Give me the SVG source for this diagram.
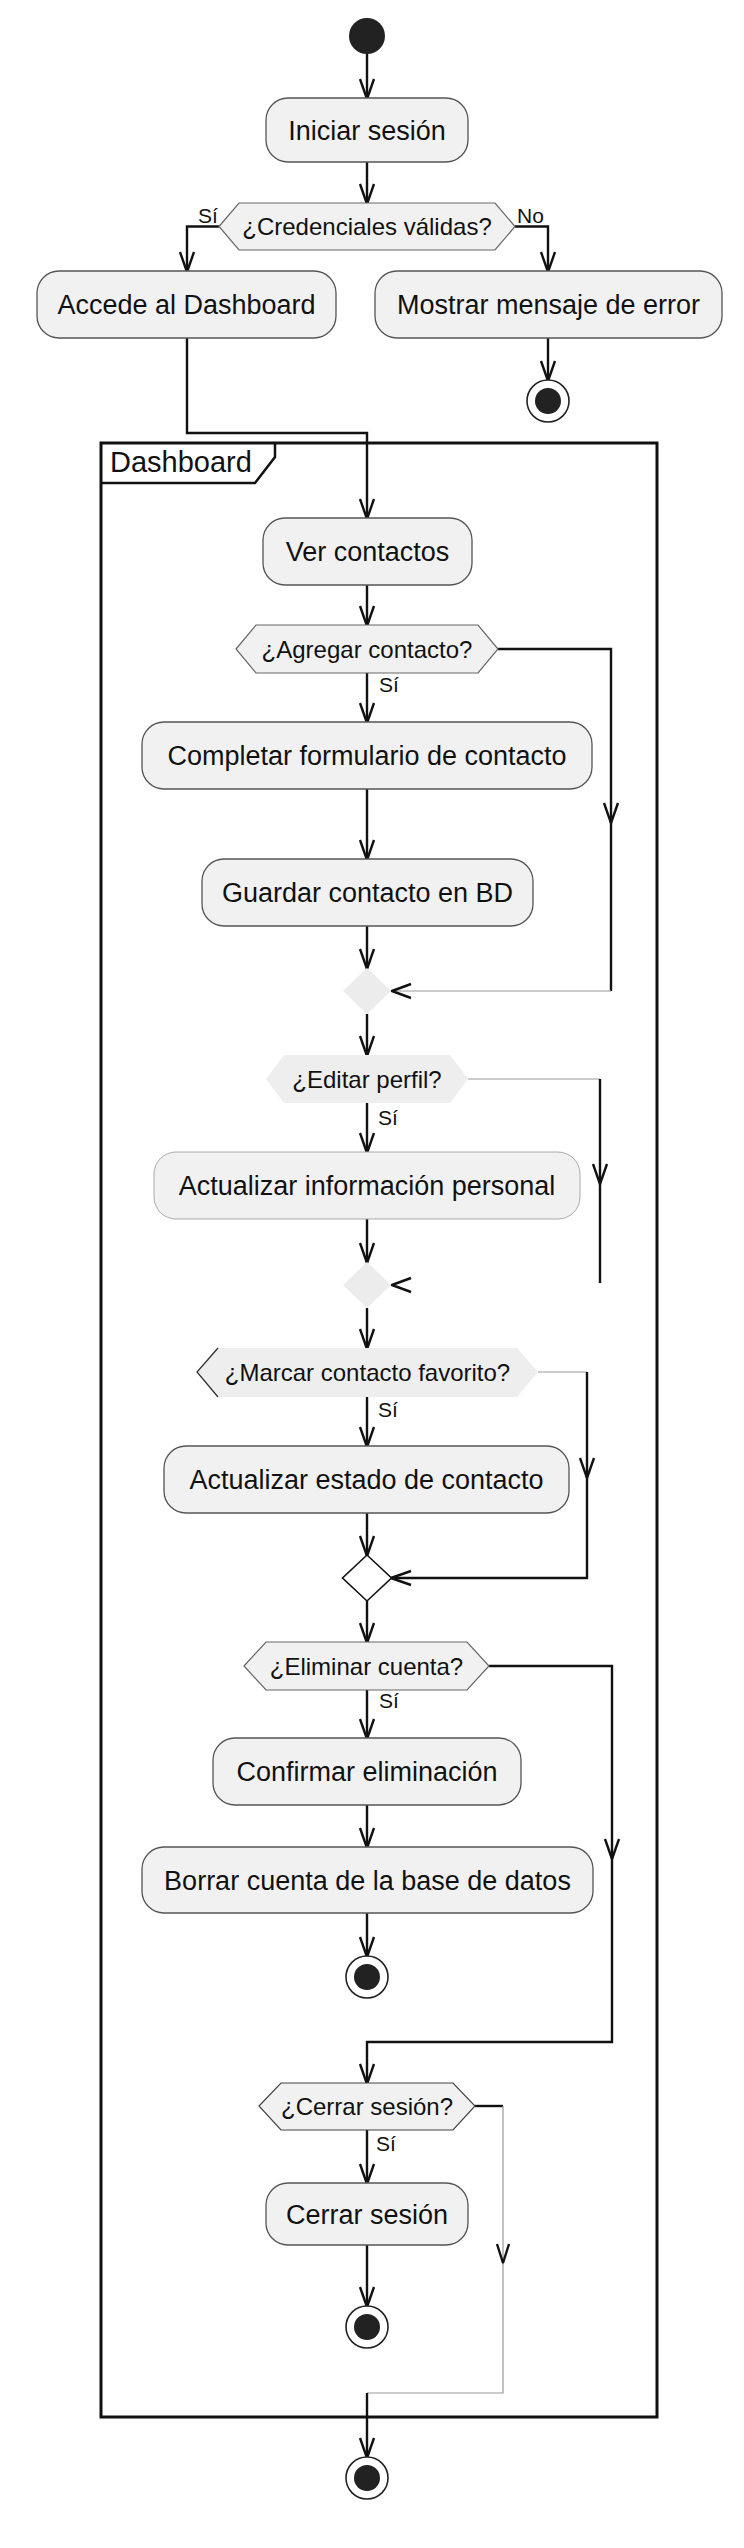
<svg xmlns="http://www.w3.org/2000/svg" width="744" height="2548" viewBox="0 0 744 2548">
<style>
text{font-family:"Liberation Sans",Arial,sans-serif;fill:#111;}
.box{fill:#f1f1f1;stroke:#555;stroke-width:1.3;}
.boxl{fill:#f1f1f1;stroke:#aaa;stroke-width:1;}
.bt{font-size:27px;text-anchor:middle;}
.ht{font-size:24px;text-anchor:middle;}
.lbl{font-size:21px;}
.hex{fill:#f1f1f1;stroke:#666;stroke-width:1.2;}
.hexn{fill:#eeeeee;stroke:none;}
.c{fill:none;stroke:#111;stroke-width:2.4;}
.cl{fill:none;stroke:#999;stroke-width:1.2;}
.ah{fill:none;stroke:#111;stroke-width:2.4;stroke-linejoin:round;}
</style>
<defs>
<marker id="arr" markerUnits="userSpaceOnUse" viewBox="0 0 20 14" markerWidth="20" markerHeight="14" refX="19" refY="7" orient="auto" overflow="visible">
<path d="M0,0 L20,7 L0,14" fill="none" stroke="#111" stroke-width="2.4" stroke-linejoin="round"/>
</marker>
</defs>
<rect width="744" height="2548" fill="#ffffff"/>

<g id="frame-dashboard">
<rect x="101" y="443" width="556" height="1974" fill="none" stroke="#111" stroke-width="3"/>
<path d="M101,483 L255,483 L275,457 L275,443" fill="none" stroke="#111" stroke-width="2.5"/>
<text x="110" y="472" style="font-size:29px">Dashboard</text>
</g>

<g id="connectors">
<path class="c" d="M367,54 L367,98" marker-end="url(#arr)"/>
<path class="c" d="M367,162 L367,203" marker-end="url(#arr)"/>
<path class="c" d="M219,226.5 L187,226.5 L187,271" marker-end="url(#arr)"/>
<path class="c" d="M515,226.5 L548,226.5 L548,271" marker-end="url(#arr)"/>
<path class="c" d="M548,338 L548,380" marker-end="url(#arr)"/>
<path class="c" d="M187,338 L187,433 L367,433 L367,518" marker-end="url(#arr)"/>
<path class="c" d="M367,585 L367,625" marker-end="url(#arr)"/>
<path class="c" d="M367,673 L367,722" marker-end="url(#arr)"/>
<path class="c" d="M367,789 L367,859" marker-end="url(#arr)"/>
<path class="c" d="M367,926 L367,968" marker-end="url(#arr)"/>
<path class="c" d="M498,649 L611,649 L611,822" marker-end="url(#arr)"/>
<path class="c" d="M611,822 L611,991"/>
<path class="cl" d="M611,991 L392,991"/>
<polyline class="ah" points="411,984 392,991 411,998"/>
<path class="c" d="M367,1014 L367,1055" marker-end="url(#arr)"/>
<path class="c" d="M367,1103 L367,1152" marker-end="url(#arr)"/>
<path class="c" d="M367,1219 L367,1262" marker-end="url(#arr)"/>
<path class="cl" d="M468,1079 L600,1079"/>
<path class="c" d="M600,1079 L600,1183" marker-end="url(#arr)"/>
<path class="c" d="M600,1183 L600,1283"/>
<polyline class="ah" points="411,1278 392,1285 411,1292"/>
<path class="c" d="M367,1308 L367,1348" marker-end="url(#arr)"/>
<path class="c" d="M367,1397 L367,1446" marker-end="url(#arr)"/>
<path class="c" d="M367,1513 L367,1555" marker-end="url(#arr)"/>
<path class="cl" d="M538,1372 L587,1372"/>
<path class="c" d="M587,1372 L587,1477" marker-end="url(#arr)"/>
<path class="c" d="M587,1477 L587,1578 L392,1578" marker-end="url(#arr)"/>
<path class="c" d="M367,1601 L367,1642" marker-end="url(#arr)"/>
<path class="c" d="M367,1690 L367,1738" marker-end="url(#arr)"/>
<path class="c" d="M367,1805 L367,1847" marker-end="url(#arr)"/>
<path class="c" d="M367,1913 L367,1956" marker-end="url(#arr)"/>
<path class="c" d="M489,1666 L612,1666 L612,1858" marker-end="url(#arr)"/>
<path class="c" d="M612,1858 L612,2042 L367,2042 L367,2083" marker-end="url(#arr)"/>
<path class="c" d="M367,2130 L367,2183" marker-end="url(#arr)"/>
<path class="c" d="M367,2245 L367,2306" marker-end="url(#arr)"/>
<path class="c" d="M475,2106 L503,2106"/>
<path class="cl" d="M503,2106 L503,2263"/>
<polyline class="ah" points="497,2244 503,2263 509,2244"/>
<path class="cl" d="M503,2263 L503,2393 L367,2393"/>
<path class="c" d="M367,2393 L367,2457" marker-end="url(#arr)"/>
</g>

<g id="start"><circle cx="367" cy="36" r="18" fill="#222"/></g>

<g id="iniciar-sesion">
<rect class="box" x="266" y="98" width="202" height="64" rx="22"/>
<text class="bt" x="367" y="139.5">Iniciar sesión</text>
</g>

<g id="dec-credenciales">
<polygon class="hex" points="219,226.5 239,203 495,203 515,226.5 495,250 239,250"/>
<text class="ht" x="367" y="235">¿Credenciales válidas?</text>
<text class="lbl" x="198" y="223">Sí</text>
<text class="lbl" x="517" y="223">No</text>
</g>

<g id="accede-dashboard">
<rect class="box" x="37" y="271" width="299" height="67" rx="22"/>
<text class="bt" x="186.5" y="314">Accede al Dashboard</text>
</g>

<g id="mostrar-error">
<rect class="box" x="375" y="271" width="347" height="67" rx="22"/>
<text class="bt" x="548.5" y="314">Mostrar mensaje de error</text>
</g>

<g id="end-error">
<circle cx="548" cy="401" r="21" fill="#fff" stroke="#222" stroke-width="1.6"/>
<circle cx="548" cy="401" r="13" fill="#222"/>
</g>

<g id="ver-contactos">
<rect class="box" x="263" y="518" width="209" height="67" rx="22"/>
<text class="bt" x="367.5" y="561">Ver contactos</text>
</g>

<g id="dec-agregar">
<polygon class="hex" points="236,649 256,625 478,625 498,649 478,673 256,673"/>
<text class="ht" x="367" y="657.5">¿Agregar contacto?</text>
<text class="lbl" x="379" y="692">Sí</text>
</g>

<g id="completar-formulario">
<rect class="box" x="142" y="722" width="450" height="67" rx="22"/>
<text class="bt" x="367" y="765">Completar formulario de contacto</text>
</g>

<g id="guardar-contacto">
<rect class="box" x="202" y="859" width="331" height="67" rx="22"/>
<text class="bt" x="367.5" y="902">Guardar contacto en BD</text>
</g>

<g id="merge-1"><polygon points="367,968 391,991 367,1014 343,991" fill="#ececec"/></g>

<g id="dec-editar">
<polygon class="hexn" points="266,1079 284,1055 450,1055 468,1079 450,1103 284,1103"/>
<text class="ht" x="367" y="1087.5">¿Editar perfil?</text>
<text class="lbl" x="378" y="1125">Sí</text>
</g>

<g id="actualizar-informacion">
<rect class="boxl" x="154" y="1152" width="426" height="67" rx="22"/>
<text class="bt" x="367" y="1195">Actualizar información personal</text>
</g>

<g id="merge-2"><polygon points="367,1262 391,1285 367,1308 343,1285" fill="#ececec"/></g>

<g id="dec-marcar">
<polygon class="hexn" points="197,1372 218,1348 517,1348 538,1372 517,1397 218,1397"/>
<polyline points="218,1348 197,1372 218,1397" fill="none" stroke="#333" stroke-width="1.3"/>
<text class="ht" x="367.5" y="1380.5">¿Marcar contacto favorito?</text>
<text class="lbl" x="378" y="1417">Sí</text>
</g>

<g id="actualizar-estado">
<rect class="box" x="164" y="1446" width="405" height="67" rx="22"/>
<text class="bt" x="366.5" y="1489">Actualizar estado de contacto</text>
</g>

<g id="merge-3"><polygon points="367,1555 391.5,1578 367,1601 342.5,1578" fill="#fff" stroke="#111" stroke-width="1.6"/></g>

<g id="dec-eliminar">
<polygon class="hex" points="244,1666 266,1642 467,1642 489,1666 467,1690 266,1690"/>
<text class="ht" x="366.5" y="1674.5">¿Eliminar cuenta?</text>
<text class="lbl" x="379" y="1708">Sí</text>
</g>

<g id="confirmar-eliminacion">
<rect class="box" x="213" y="1738" width="308" height="67" rx="22"/>
<text class="bt" x="367" y="1781">Confirmar eliminación</text>
</g>

<g id="borrar-cuenta">
<rect class="box" x="142" y="1847" width="451" height="66" rx="22"/>
<text class="bt" x="367.5" y="1889.5">Borrar cuenta de la base de datos</text>
</g>

<g id="end-eliminar">
<circle cx="367" cy="1977" r="21" fill="#fff" stroke="#222" stroke-width="1.6"/>
<circle cx="367" cy="1977" r="13" fill="#222"/>
</g>

<g id="dec-cerrar">
<polygon class="hex" points="259,2106 281,2083 453,2083 475,2106 453,2130 281,2130" style="stroke:#444"/>
<text class="ht" x="367" y="2114.5">¿Cerrar sesión?</text>
<text class="lbl" x="376" y="2151">Sí</text>
</g>

<g id="cerrar-sesion">
<rect class="box" x="266" y="2183" width="202" height="62" rx="22"/>
<text class="bt" x="367" y="2223.5">Cerrar sesión</text>
</g>

<g id="end-cerrar">
<circle cx="367" cy="2327" r="21" fill="#fff" stroke="#222" stroke-width="1.6"/>
<circle cx="367" cy="2327" r="13" fill="#222"/>
</g>

<g id="end-final">
<circle cx="367" cy="2478" r="21" fill="#fff" stroke="#222" stroke-width="1.6"/>
<circle cx="367" cy="2478" r="13" fill="#222"/>
</g>
</svg>
